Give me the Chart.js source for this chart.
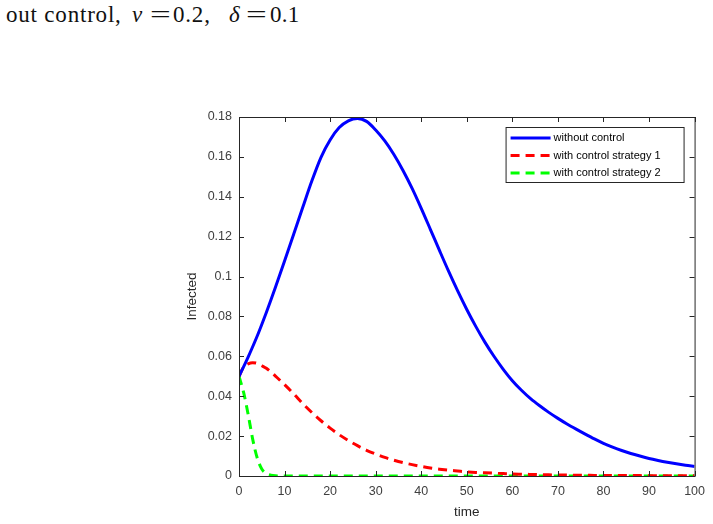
<!DOCTYPE html>
<html>
<head>
<meta charset="utf-8">
<script src="https://cdn.jsdelivr.net/npm/chart.js@4.4.1/dist/chart.umd.min.js"></script>
<style>
    body { margin: 0; background: #fff; }
    #wrap { position: relative; width: 713px; height: 524px; }
    .h { position: absolute; top: 2px; font-family: "Liberation Serif", serif; font-size: 23px; color: #111; white-space: nowrap; }
    .eq { transform: scaleX(1.6); transform-origin: left center; }
    canvas { position: absolute; left: 0; top: 0; }
</style>
</head>
<body>
<div id="wrap">
    <span class="h" style="left:6px; letter-spacing:0.8px">out control,</span>
    <span class="h" style="left:132px"><i>ν</i></span>
    <span class="h eq" style="left:150px">=</span>
    <span class="h" style="left:173px; letter-spacing:0.8px">0.2,</span>
    <span class="h" style="left:229px"><i>δ</i></span>
    <span class="h eq" style="left:246px">=</span>
    <span class="h" style="left:270px; letter-spacing:0.3px">0.1</span>
    <canvas id="chart" width="713" height="524"></canvas>
</div>
<script>
"use strict";

// Tidpunkter och avlästa värden för de tre kurvorna
const time = [0, 1, 2, 3, 4, 5, 6, 7, 8, 10, 12, 14, 16, 18, 20, 22, 24, 26, 28, 30, 32, 34, 36, 38, 40,
    42, 44, 46, 48, 50, 52, 54, 56, 58, 60, 62, 64, 66, 68, 70, 72, 74, 76, 78, 80, 82, 84, 86, 88, 90,
    92, 94, 96, 98, 100];

const withoutControl = [0.050, 0.0547, 0.0596, 0.0648, 0.0702, 0.076, 0.082, 0.0882, 0.0946, 0.1078,
    0.1212, 0.1347, 0.148, 0.1598, 0.1685, 0.1747, 0.1781, 0.1793, 0.1778, 0.1735, 0.168, 0.1612, 0.1532,
    0.1442, 0.1342, 0.1237, 0.1131, 0.1027, 0.0928, 0.0835, 0.0749, 0.067, 0.0599, 0.0535, 0.0478,
    0.043, 0.0388, 0.0352, 0.0319, 0.0289, 0.0261, 0.0235, 0.021, 0.0186, 0.0164, 0.0145, 0.0128,
    0.0113, 0.01, 0.0088, 0.0078, 0.0069, 0.0061, 0.0054, 0.0048];

const strategy1 = [0.050, 0.0545, 0.0562, 0.0568, 0.0565, 0.0553, 0.054, 0.0522, 0.0501, 0.0458, 0.0412,
    0.0363, 0.0318, 0.0277, 0.024, 0.0207, 0.0178, 0.0152, 0.0129, 0.011, 0.0093, 0.0079, 0.0067, 0.0057,
    0.0048, 0.004, 0.0034, 0.0029, 0.0025, 0.0021, 0.0018, 0.0016, 0.0014, 0.0012, 0.001, 0.0009, 0.0008,
    0.0007, 0.0006, 0.0005, 0.0005, 0.0004, 0.0004, 0.0003, 0.0003, 0.0003, 0.0002, 0.0002, 0.0002,
    0.0001, 0.0001, 0.0001, 0.0001, 0.0001, 0.0001];

const strategy2 = [0.050, 0.042, 0.031, 0.0185, 0.009, 0.0035, 0.0012, 0.0004, 0.0001, 0, 0, 0, 0, 0, 0,
    0, 0, 0, 0, 0, 0, 0, 0, 0, 0, 0, 0, 0, 0, 0, 0, 0, 0, 0, 0, 0, 0, 0, 0, 0, 0, 0, 0, 0, 0, 0, 0, 0, 0,
    0, 0, 0, 0, 0, 0];

const seriesNames = ['without control', 'with control strategy 1', 'with control strategy 2'];
const yTicks = [0, 0.02, 0.04, 0.06, 0.08, 0.1, 0.12, 0.14, 0.16, 0.18];
const xTicks = [0, 10, 20, 30, 40, 50, 60, 70, 80, 90, 100];

const axisColor = '#262626';
const font = 'Liberation Sans, Arial, sans-serif';

// Slår ihop tid och värden till punkter
function toPoints(values) {
    return time.map((t, i) => ({ x: t, y: values[i] }));
}

// Ram runt hela ritytan och tickmarkeringar inåt (som i MATLAB)
const boxPlugin = {
    id: 'boxPlugin',
    afterDraw(chart) {
        const { ctx, chartArea: a, scales } = chart;
        ctx.save();
        ctx.strokeStyle = axisColor;
        ctx.lineWidth = 1;
        ctx.strokeRect(a.left + 0.5, a.top + 0.5, a.right - a.left, a.bottom - a.top);
        ctx.beginPath();
        const len = 5;
        xTicks.forEach(v => {
            const px = Math.round(scales.x.getPixelForValue(v)) + 0.5;
            ctx.moveTo(px, a.bottom); ctx.lineTo(px, a.bottom - len);
            ctx.moveTo(px, a.top); ctx.lineTo(px, a.top + len);
        });
        yTicks.forEach(v => {
            const py = Math.round(scales.y.getPixelForValue(v)) + 0.5;
            ctx.moveTo(a.left, py); ctx.lineTo(a.left + len, py);
            ctx.moveTo(a.right, py); ctx.lineTo(a.right - len, py);
        });
        ctx.stroke();
        ctx.restore();
    }
};

// Egen legend i övre högra hörnet av ritytan
const legendPlugin = {
    id: 'legendPlugin',
    afterDraw(chart) {
        const { ctx, chartArea: a } = chart;
        const x0 = a.right - 189, y0 = a.top + 10, w = 178, h = 55;
        ctx.save();
        ctx.fillStyle = '#fff';
        ctx.fillRect(x0, y0, w, h);
        ctx.strokeStyle = axisColor;
        ctx.lineWidth = 1;
        ctx.strokeRect(x0 + 0.5, y0 + 0.5, w, h);
        ctx.font = '11px ' + font;
        ctx.textBaseline = 'middle';
        chart.data.datasets.forEach((ds, i) => {
            const y = y0 + 11 + i * 17.5;
            ctx.strokeStyle = ds.borderColor;
            ctx.lineWidth = ds.borderWidth;
            ctx.setLineDash(ds.borderDash || []);
            ctx.beginPath();
            ctx.moveTo(x0 + 5, y);
            ctx.lineTo(x0 + 45, y);
            ctx.stroke();
            ctx.setLineDash([]);
            ctx.fillStyle = '#000';
            ctx.fillText(ds.label, x0 + 48, y);
        });
        ctx.restore();
    }
};

new Chart(document.getElementById('chart'), {
    type: 'line',
    data: {
        datasets: [
            { label: seriesNames[0], data: toPoints(withoutControl), borderColor: '#0000ff', borderWidth: 3 },
            { label: seriesNames[1], data: toPoints(strategy1), borderColor: '#ff0000', borderWidth: 3, borderDash: [9, 6] },
            { label: seriesNames[2], data: toPoints(strategy2), borderColor: '#00ff00', borderWidth: 3, borderDash: [9, 6] }
        ]
    },
    options: {
        responsive: false,
        animation: false,
        events: [],
        layout: { padding: { left: 184, top: 117, right: 16, bottom: 0 } },
        elements: { point: { radius: 0 }, line: { cubicInterpolationMode: 'monotone', borderCapStyle: 'butt' } },
        plugins: { legend: { display: false }, tooltip: { enabled: false } },
        scales: {
            x: {
                type: 'linear', min: 0, max: 100,
                afterBuildTicks: s => { s.ticks = xTicks.map(v => ({ value: v })); },
                afterFit: s => { s.height = 48; },
                grid: { display: false, drawTicks: false },
                border: { color: axisColor },
                ticks: { color: '#404040', font: { family: font, size: 12.5 }, padding: 8, maxRotation: 0 },
                title: { display: true, text: 'time', color: '#262626', font: { family: font, size: 13.5 }, padding: { top: 0, bottom: 4 } }
            },
            y: {
                min: 0, max: 0.18,
                afterBuildTicks: s => { s.ticks = yTicks.map(v => ({ value: v })); },
                afterFit: s => { s.width = 239 - 184; },
                grid: { display: false, drawTicks: false },
                border: { color: axisColor },
                ticks: { color: '#404040', font: { family: font, size: 12.5 }, padding: 7, callback: v => String(v) },
                title: { display: true, text: 'Infected', color: '#262626', font: { family: font, size: 13.5 }, padding: { top: 0, bottom: 0 } }
            }
        }
    },
    plugins: [boxPlugin, legendPlugin]
});
</script>
</body>
</html>
